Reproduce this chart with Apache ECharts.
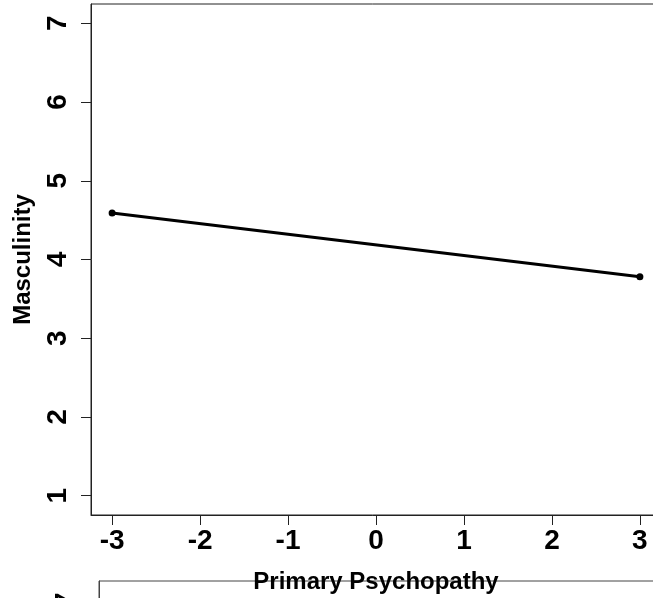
<!DOCTYPE html>
<html>
<head>
<meta charset="utf-8">
<script src="https://cdn.jsdelivr.net/npm/echarts@6/dist/echarts.min.js"></script>
<style>
html,body{margin:0;padding:0;background:#fff;}
#chart{width:653px;height:598px;}
</style>
</head>
<body>
<div id="chart"></div>
<script>
// Data
var xValues = [-3, 3];
var masculinity = [4.59, 3.78];
var xTicks = [-3, -2, -1, 0, 1, 2, 3];
var yTicks = [1, 2, 3, 4, 5, 6, 7];
var xTitle = 'Primary Psychopathy';
var yTitle = 'Masculinity';

var FONT = '"Liberation Sans", Arial, sans-serif';
var chart = echarts.init(document.getElementById('chart'), null, {renderer: 'canvas'});

var lineData = xValues.map(function (x, i) { return [x, masculinity[i]]; });

var option = {
  backgroundColor: '#fff',
  animation: false,
  grid: [
    {left: 91, top: 4, width: 570, height: 511, show: true, borderColor: '#222', borderWidth: 1, backgroundColor: 'transparent', containLabel: false, outerBoundsMode: 'none'},
    {left: 99, top: 581, width: 570, height: 511, show: true, borderColor: '#444', borderWidth: 1, backgroundColor: 'transparent', containLabel: false, outerBoundsMode: 'none'}
  ],
  xAxis: [
    {
      type: 'value', gridIndex: 0, min: -3.24, max: 3.24,
      name: xTitle, nameLocation: 'middle', nameGap: 55,
      nameTextStyle: {fontFamily: FONT, fontWeight: 'bold', fontSize: 24, color: '#000'},
      splitLine: {show: false},
      axisLine: {show: true, onZero: false, lineStyle: {color: '#222', width: 1}},
      axisTick: {show: true, length: 10, inside: false, customValues: xTicks, lineStyle: {color: '#222'}},
      axisLabel: {show: true, customValues: xTicks, margin: 12, fontFamily: FONT, fontWeight: 'bold', fontSize: 28, color: '#000'}
    },
    {
      type: 'value', gridIndex: 1, min: -3.24, max: 3.24, show: false
    }
  ],
  yAxis: [
    {
      type: 'value', gridIndex: 0, min: 0.755, max: 7.245,
      name: yTitle, nameLocation: 'middle', nameGap: 56, nameRotate: 90,
      nameTextStyle: {fontFamily: FONT, fontWeight: 'bold', fontSize: 24, color: '#000'},
      splitLine: {show: false},
      axisLine: {show: true, onZero: false, lineStyle: {color: '#222', width: 1}},
      axisTick: {show: true, length: 10, inside: false, customValues: yTicks, lineStyle: {color: '#222'}},
      axisLabel: {show: true, customValues: yTicks, rotate: 90, margin: 19, fontFamily: FONT, fontWeight: 'bold', fontSize: 28, color: '#000'}
    },
    {
      type: 'value', gridIndex: 1, min: 0.755, max: 7.245,
      splitLine: {show: false},
      axisLine: {show: true, onZero: false, lineStyle: {color: '#444', width: 1}},
      axisTick: {show: true, length: 10, inside: false, customValues: yTicks, lineStyle: {color: '#444'}},
      axisLabel: {show: true, customValues: yTicks, rotate: 90, margin: 19, fontFamily: FONT, fontWeight: 'bold', fontSize: 28, color: '#000'}
    }
  ],
  series: [
    {
      type: 'line', xAxisIndex: 0, yAxisIndex: 0,
      data: lineData,
      symbol: 'circle', symbolSize: 7,
      lineStyle: {color: '#000', width: 3},
      itemStyle: {color: '#000'}
    }
  ]
};
chart.setOption(option);
</script>
</body>
</html>
